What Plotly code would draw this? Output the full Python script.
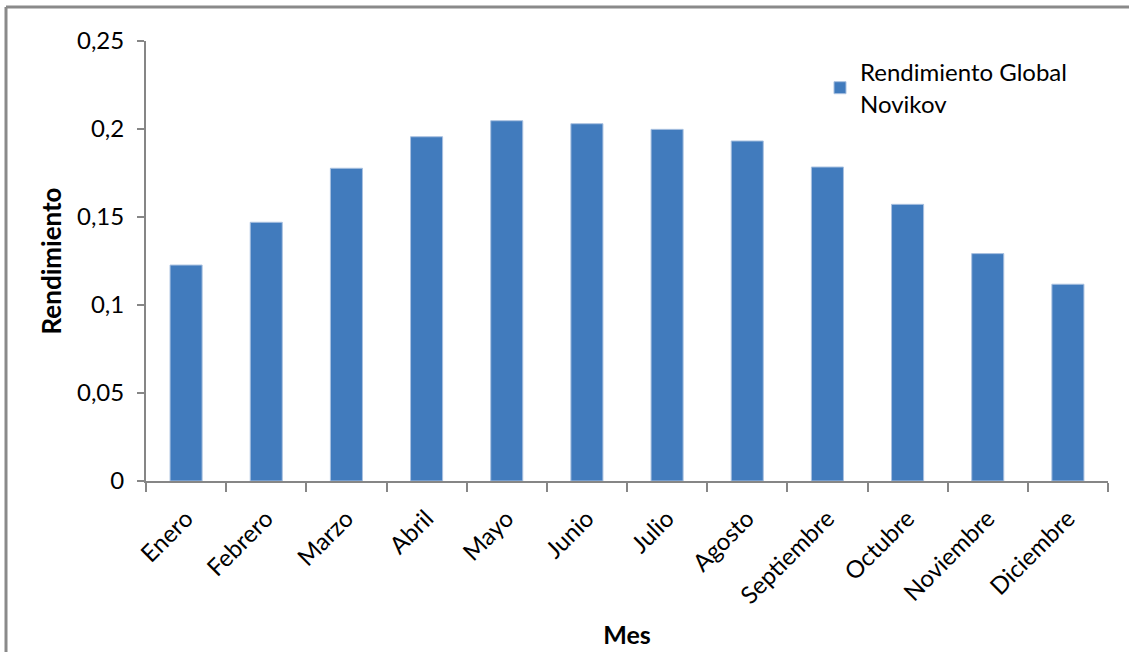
import plotly.graph_objects as go

# Monthly global efficiency (Novikov)
meses = ["Enero", "Febrero", "Marzo", "Abril", "Mayo", "Junio", "Julio",
         "Agosto", "Septiembre", "Octubre", "Noviembre", "Diciembre"]
rendimiento = [0.1227, 0.1470, 0.1777, 0.1956, 0.2047, 0.2030, 0.1998,
               0.1932, 0.1784, 0.1572, 0.1292, 0.1118]
y_ticks = [0, 0.05, 0.1, 0.15, 0.2, 0.25]
y_tick_text = ["0", "0,05", "0,1", "0,15", "0,2", "0,25"]

W, H = 1129, 652
L, R, T, B = 146, 21, 41, 171
pw, ph = W - L - R, H - T - B

def px_x(x):
    return (x - L) / pw

def px_y(y):
    return (H - B - y) / ph

FONT = "Lato, 'Open Sans', sans-serif"
AXIS = "#868686"

fig = go.Figure(go.Bar(
    x=meses, y=rendimiento,
    name="Rendimiento Global<br>Novikov",
    marker=dict(color="#417BBD", line=dict(color="#A9C1E0", width=1)),
))

fig.update_layout(
    width=W, height=H,
    margin=dict(l=L, r=R, t=T, b=B),
    paper_bgcolor="white", plot_bgcolor="white",
    font=dict(family=FONT, size=24, color="#000000"),
    bargap=0.6,
    showlegend=True,
    legend=dict(x=px_x(820), y=px_y(50), xanchor="left", yanchor="top",
                bgcolor="rgba(0,0,0,0)", font=dict(size=24),
                itemwidth=30),
    xaxis=dict(
        showline=True, linecolor=AXIS, linewidth=2, automargin=False,
        ticks="outside", tickson="boundaries", ticklen=9, tickwidth=2,
        tickcolor=AXIS, tickangle=-45, showgrid=False,
        tickfont=dict(size=24), ticklabelstandoff=12,
        title=dict(text="<b>Mes</b>", font=dict(size=25), standoff=18),
    ),
    yaxis=dict(
        range=[0, 0.25], tickvals=y_ticks, ticktext=y_tick_text,
        showline=True, linecolor=AXIS, linewidth=2, automargin=False,
        ticks="outside", ticklen=7, tickwidth=2, tickcolor=AXIS,
        showgrid=False, zeroline=False, tickfont=dict(size=24),
        ticklabelstandoff=8,
        title=dict(text="<b>Rendimiento</b>", font=dict(size=26), standoff=8),
    ),
    shapes=[
        dict(type="line", xref="paper", yref="paper",
             x0=px_x(6), x1=px_x(1135), y0=px_y(7), y1=px_y(7),
             line=dict(color="#8A8A8A", width=3)),
        dict(type="line", xref="paper", yref="paper",
             x0=px_x(6), x1=px_x(6), y0=px_y(7), y1=px_y(660),
             line=dict(color="#8A8A8A", width=3)),
    ],
)

fig.write_html("out.html")
